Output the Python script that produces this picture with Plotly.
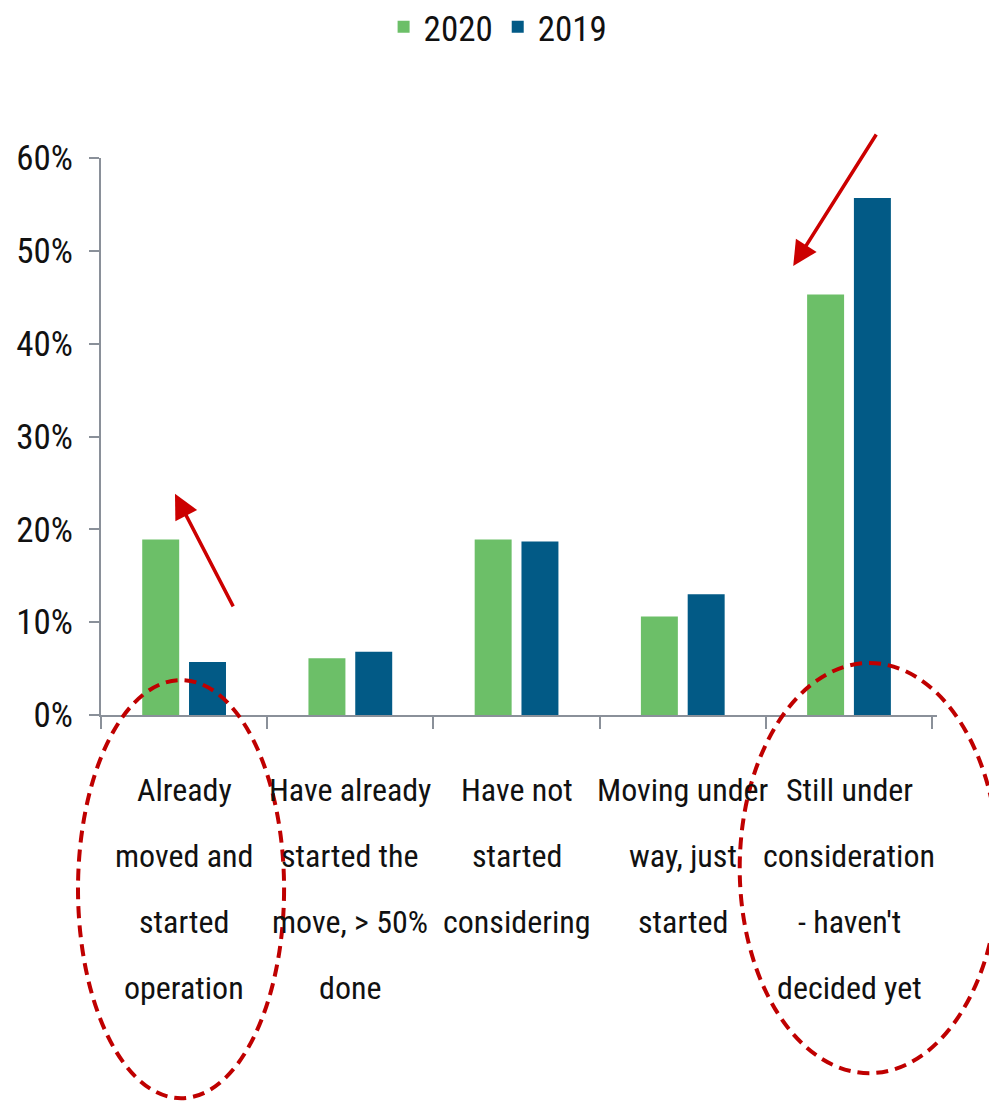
import plotly.graph_objects as go

categories = [
    "Already moved and started operation",
    "Have already started the move, > 50% done",
    "Have not started considering",
    "Moving under way, just started",
    "Still under consideration - haven't decided yet",
]
category_lines = [
    ["Already", "moved and", "started", "operation"],
    ["Have already", "started the", "move, > 50%", "done"],
    ["Have not", "started", "considering"],
    ["Moving under", "way, just", "started"],
    ["Still under", "consideration", "- haven't", "decided yet"],
]
values_2020 = [18.9, 6.1, 18.9, 10.6, 45.3]
values_2019 = [5.7, 6.8, 18.7, 13.0, 55.7]
y_ticks = [0, 10, 20, 30, 40, 50, 60]
y_tick_text = ["0%", "10%", "20%", "30%", "40%", "50%", "60%"]

FONT = "Liberation Sans Narrow, Arial Narrow, Roboto Condensed, Liberation Sans, Arial, sans-serif"
GREEN = "#6CBF68"
BLUE = "#025A86"
AXIS = "#8A9099"
RED = "#CC0000"
DARKRED = "#BF0000"

fig = go.Figure()
fig.add_trace(go.Bar(x=categories, y=values_2020, name="2020", marker=dict(color=GREEN, line=dict(width=0))))
fig.add_trace(go.Bar(x=categories, y=values_2019, name="2019", marker=dict(color=BLUE, line=dict(width=0))))

W, H = 997, 1101
L, R, T, B = 93, 68, 150, 394

fig.update_layout(
    width=W, height=H,
    margin=dict(l=L, r=R, t=T, b=B, autoexpand=False),
    paper_bgcolor="white", plot_bgcolor="white",
    barmode="group", bargap=0.437, bargroupgap=0.21,
    font=dict(family=FONT, color="#111111", size=34),
    showlegend=True,
    legend=dict(orientation="h", x=0.475, xanchor="center", y=1.235, yanchor="middle",
                font=dict(family=FONT, size=35, color="#111111"), traceorder="normal",
                itemwidth=30, tracegroupgap=0, bgcolor="rgba(0,0,0,0)"),
    xaxis=dict(showline=True, linecolor=AXIS, linewidth=2, ticks="outside", tickson="boundaries",
               ticklen=12, tickwidth=2, tickcolor=AXIS, showticklabels=False, showgrid=False,
               zeroline=False),
    yaxis=dict(range=[0, 60], tickvals=y_ticks, ticktext=y_tick_text, showline=True, linecolor=AXIS,
               linewidth=2, ticks="outside", ticklen=10, tickwidth=2, tickcolor=AXIS, showgrid=False,
               zeroline=False, ticklabelstandoff=9,
               tickfont=dict(family=FONT, size=35, color="#111111")),
)

# category labels, one annotation per line for the wide line spacing
for cat, lines in zip(categories, category_lines):
    for i, line in enumerate(lines):
        fig.add_annotation(x=cat, y=0, xref="x", yref="y", text=line, showarrow=False,
                           yshift=-(75 + 66 * i), yanchor="middle", xanchor="center",
                           font=dict(family=FONT, size=32, color="#111111"))

# red arrows
fig.add_annotation(x=0.0885, y=0.397, xref="paper", yref="paper", text="", showarrow=True,
                   ax=59, ay=114, arrowhead=2, arrowsize=1.4, arrowwidth=3.5, arrowcolor=RED)
fig.add_annotation(x=0.828, y=0.806, xref="paper", yref="paper", text="", showarrow=True,
                   ax=84, ay=-133, arrowhead=2, arrowsize=1.4, arrowwidth=3.5, arrowcolor=RED)

# dashed ellipses
fig.add_shape(type="circle", xref="paper", yref="paper", x0=-0.0275, x1=0.219, y0=-0.688, y1=0.0628,
              line=dict(color=DARKRED, width=4, dash="12px,7px"))
fig.add_shape(type="circle", xref="paper", yref="paper", x0=0.764, x1=1.074, y0=-0.643, y1=0.0934,
              line=dict(color=DARKRED, width=4, dash="12px,7px"))

fig.write_html("out.html")
